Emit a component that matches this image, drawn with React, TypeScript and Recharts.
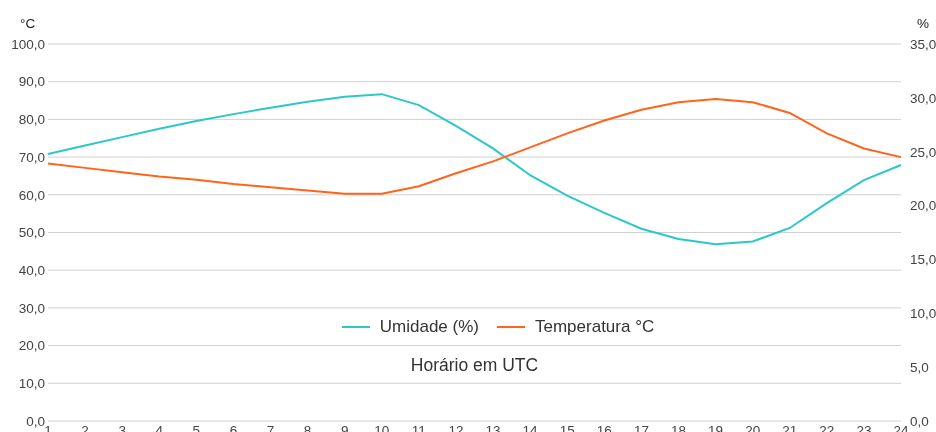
import { LineChart, Line, XAxis, YAxis, CartesianGrid, Legend } from 'recharts';

const hours: number[] = [1, 2, 3, 4, 5, 6, 7, 8, 9, 10, 11, 12, 13, 14, 15, 16, 17, 18, 19, 20, 21, 22, 23, 24];
const umidade: number[] = [70.8, 73.1, 75.3, 77.5, 79.6, 81.4, 83.1, 84.7, 86.0, 86.7, 83.8, 78.3, 72.3, 65.2, 59.8, 55.2, 51.0, 48.3, 46.9, 47.6, 51.2, 57.8, 63.9, 67.9];
const temperatura: number[] = [23.9, 23.5, 23.1, 22.7, 22.4, 22.0, 21.7, 21.4, 21.1, 21.1, 21.8, 23.0, 24.1, 25.4, 26.7, 27.9, 28.9, 29.6, 29.9, 29.6, 28.6, 26.7, 25.3, 24.5];
const leftTicks: number[] = [0, 10, 20, 30, 40, 50, 60, 70, 80, 90, 100];
const rightTicks: number[] = [0, 5, 10, 15, 20, 25, 30, 35];
const seriesNames: string[] = ['Umidade (%)', 'Temperatura °C'];

const data = hours.map((h, i) => ({ hora: h, umidade: umidade[i], temperatura: temperatura[i] }));

const cyan = '#2cc8c8';
const orange = '#ff6419';
const font = '"Liberation Sans", Arial, sans-serif';
const fmt = (v: number) => v.toFixed(1).replace('.', ',');

// legend drawn in the middle of the plot, like the original
const LegendContent = (props: any) => {
    const items = [...(props.payload || [])].sort(
        (a: any, b: any) => seriesNames.indexOf(a.value) - seriesNames.indexOf(b.value));
    return (
        <div style={{ display: 'flex', justifyContent: 'center', alignItems: 'center', fontFamily: font, fontSize: 17, color: '#333' }}>
            {items.map((it: any, i: number) => (
                <div key={it.value} style={{ display: 'flex', alignItems: 'center', marginLeft: i ? 18 : 0 }}>
                    <div style={{ width: 28, height: 2, background: it.color, marginRight: 10 }} />
                    <span>{it.value}</span>
                </div>
            ))}
        </div>
    );
};

export default function App() {
    const tickStyle = { fontSize: 13.5, fill: '#444', fontFamily: font };
    return (
        <div style={{ position: 'fixed', left: 0, top: 0 }}>
            <LineChart width={936} height={432} data={data} margin={{ top: 44, right: 0, bottom: 0, left: 0 }}>
                <CartesianGrid vertical={false} stroke="#d0d0d0" yAxisId="left" />
                <XAxis dataKey="hora" height={11} tickLine={false} axisLine={false} tickSize={0} tickMargin={4}
                    interval={0} tick={tickStyle}
                    label={{ value: 'Horário em UTC', position: 'top', offset: 50, fontSize: 17.5, fill: '#333', fontFamily: font }} />
                <YAxis yAxisId="left" orientation="left" width={48} domain={[0, 100]} ticks={leftTicks}
                    tickFormatter={fmt} tickLine={false} axisLine={false} tickSize={0} tickMargin={3} tick={tickStyle}
                    label={{ value: '°C', position: 'insideTopLeft', dx: 15, dy: -31, fontSize: 13.5, fill: '#222', fontFamily: font }} />
                <YAxis yAxisId="right" orientation="right" width={35} domain={[0, 35]} ticks={rightTicks}
                    tickFormatter={fmt} tickLine={false} axisLine={false} tickSize={0} tickMargin={9} tick={tickStyle}
                    label={{ value: '%', position: 'insideTopRight', dx: -2, dy: -31, fontSize: 13.5, fill: '#222', fontFamily: font }} />
                <Legend content={LegendContent} layout="horizontal" verticalAlign="middle" align="center"
                    wrapperStyle={{ top: 317, left: 30, width: 936 }} />
                <Line yAxisId="left" type="linear" dataKey="umidade" name="Umidade (%)" stroke={cyan} strokeWidth={2}
                    dot={false} isAnimationActive={false} />
                <Line yAxisId="right" type="linear" dataKey="temperatura" name="Temperatura °C" stroke={orange} strokeWidth={2}
                    dot={false} isAnimationActive={false} />
            </LineChart>
        </div>
    );
}
